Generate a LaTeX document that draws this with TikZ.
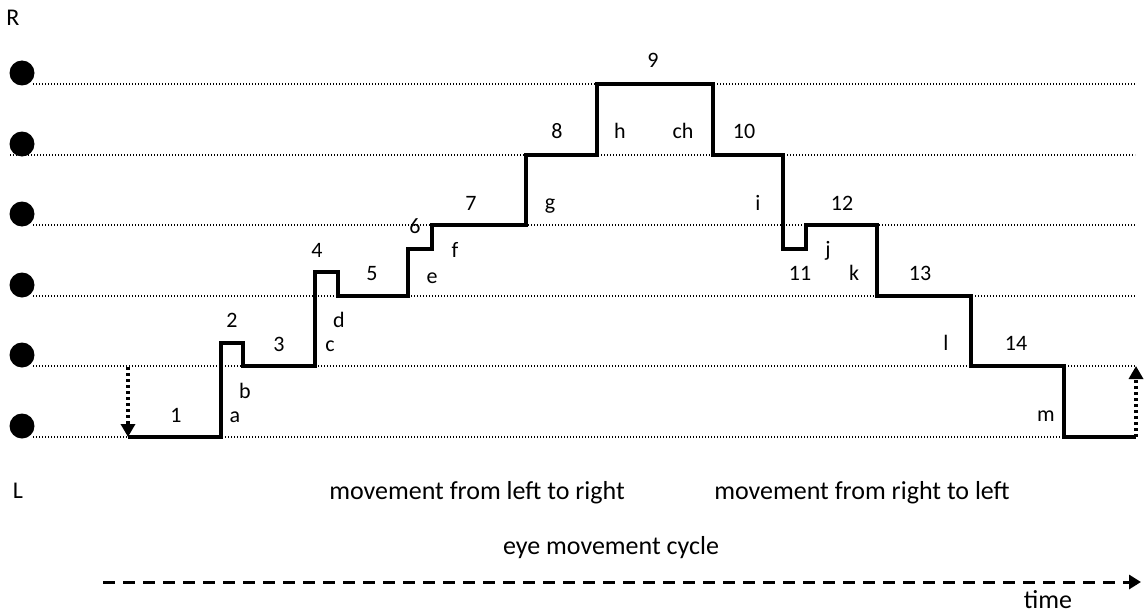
\documentclass[tikz,border=0pt]{standalone}
\usepackage{fontspec}
\setmainfont{Carlito}
\usetikzlibrary{arrows.meta}
\begin{document}
\begin{tikzpicture}[x=1pt,y=-1pt,
  lbl/.style={font=\fontsize{22}{22}\selectfont, inner sep=0pt, anchor=base},
  side/.style={font=\fontsize{24}{24}\selectfont, inner sep=0pt, anchor=base},
  big/.style={font=\fontsize{26}{26}\selectfont, inner sep=0pt, anchor=base},
  levelline/.style={line width=1.3pt, dash pattern=on 1.3pt off 1.7pt},
  trace/.style={line width=3.5pt, line join=miter},
  retarrow/.style={line width=3.5pt, dash pattern=on 3pt off 3pt, -{Triangle[width=14pt,length=13pt]}},
  timearrow/.style={line width=3pt, dash pattern=on 12pt off 8pt, -{Triangle[width=14pt,length=12pt]}},
  eyedot/.style={circle, fill=black, minimum size=25pt, inner sep=0pt}]
\useasboundingbox (0,0) rectangle (1147,615);

% level lines and dots
\foreach \yy/\xs in {84/33,155/10,225/33,296/33,366/33,437/33}{
  \draw[levelline] (\xs,\yy) -- (1135,\yy);
  \node[eyedot] at (22,\yy-11) {};
}

% trace
\draw[trace] (128,437) -- (221,437) -- (221,343) -- (243,343) -- (243,366) -- (315,366)
  -- (315,272) -- (338,272) -- (338,296) -- (408,296) -- (408,249) -- (432,249)
  -- (432,225) -- (526,225) -- (526,155) -- (597,155) -- (597,84) -- (713,84)
  -- (713,155) -- (783,155) -- (783,249) -- (806,249) -- (806,225) -- (877,225)
  -- (877,296) -- (971,296) -- (971,366) -- (1064,366) -- (1064,437) -- (1136,437);

% return arrows
\coordinate (rs1) at (128,367); \coordinate (re1) at (128,437);
\coordinate (rs2) at (1136,437); \coordinate (re2) at (1136,366);
\draw[retarrow] (rs1) -- (re1);
\draw[retarrow] (rs2) -- (re2);

% labels
\node[side] (R) at (13,26) {R};
\node[side] (L) at (18,498) {L};
\foreach \t/\xx/\yy in {1/176/422, a/235/422, b/245/398, 2/232/327, 3/279/351, c/330/351,
  d/339/327, 4/317/257, 5/372/280, e/432/283, 6/415/233, f/455/257, 7/471/210, g/550/209,
  8/557/139, h/620/139, ch/683/139, 9/653/68, 10/744/139, i/758/210, 12/842/210, j/828/256,
  11/800/280, k/854/280, 13/920/280, l/946/350, 14/1016/350, m/1046/421}{
  \node[lbl] (n\t) at (\xx,\yy) {\t};
}

\node[big] (ltr) at (477,499) {movement from left to right};
\node[big] (rtl) at (862,499) {movement from right to left};
\node[big] (cyc) at (611,554) {eye movement cycle};

\coordinate (ts) at (103,582); \coordinate (te) at (1141,582);
\draw[timearrow] (ts) -- (te);
\node[big] (time) at (1048,608) {time};
\end{tikzpicture}
\end{document}
